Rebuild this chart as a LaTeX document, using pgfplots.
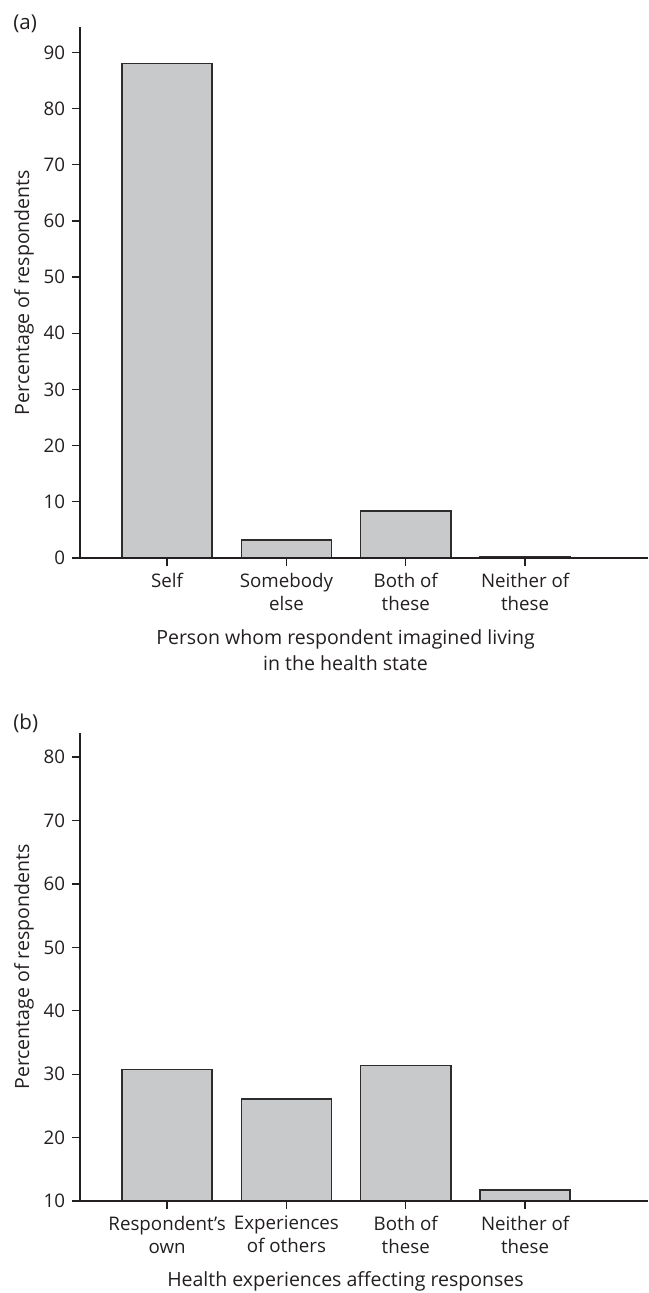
\documentclass[border=0pt]{standalone}
\usepackage{fontspec}
\setmainfont{Open Sans}
\usepackage{pgfplots}
\pgfplotsset{compat=1.18}

\definecolor{barfill}{RGB}{200,201,203}
\definecolor{bardraw}{RGB}{45,45,45}
\definecolor{ink}{RGB}{35,31,32}

\pgfplotsset{
  panel/.style={
    scale only axis,
    width=284bp,
    xmin=-0.73, xmax=4.03,
    axis x line*=bottom, axis y line*=left,
    axis line style={ink, line width=0.65bp},
    tick style={ink, line width=0.65bp},
    tick align=outside,
    major tick length=4bp,
    xtick={0,1,2,3},
    xtick pos=bottom, ytick pos=left,
    /pgf/number format/assume math mode=true,
    tick label style={font=\fontsize{9.4}{11.5}\selectfont, text=ink},
    xticklabel style={align=center},
    label style={font=\fontsize{9.8}{13.3}\selectfont, text=ink},
    ylabel style={at={(axis description cs:-0.0986,0.5)}, anchor=center},
    axis on top,
    ybar, bar width=0.755,
  },
  barstyle/.style={fill=barfill, draw=bardraw, line width=0.75bp},
}

\begin{document}
\begin{tikzpicture}
\useasboundingbox (0,0) rectangle (324.5bp,-646.5bp);

% (a)
\begin{axis}[panel,
    at={(40bp,-279bp)}, anchor=south west,
    height=265.5bp,
    ymin=0, ymax=94.5,
    ytick={0,10,...,90},
    xticklabels={Self,{Somebody\\else},{Both of\\these},{Neither of\\these}},
    ylabel={Percentage of respondents},
    xlabel={Person whom respondent imagined living\\in the health state},
    xlabel style={at={(axis description cs:0.4674,-0.1733)}, anchor=center, align=center},
  ]
  \addplot[barstyle] coordinates {(0,88) (1,3.2) (2,8.4) (3,0.3)};
\end{axis}
\node[anchor=west, inner sep=0, text=ink, font=\fontsize{10.3}{12}\selectfont] at (6.5bp,-12bp) {(a)};

% (b)
\begin{axis}[panel,
    at={(40bp,-600.5bp)}, anchor=south west,
    height=234bp,
    ymin=10, ymax=83.8,
    ytick={10,20,...,80},
    xticklabels={{Respondent’s\\own},{Experiences\\of others},{Both of\\these},{Neither of\\these}},
    ylabel={Percentage of respondents},
    xlabel={Health experiences affecting responses},
    xlabel style={at={(axis description cs:0.4674,-0.1722)}, anchor=center},
  ]
  \addplot[barstyle] coordinates {(0,30.7) (1,26.1) (2,31.4) (3,11.7)};
\end{axis}
\node[anchor=west, inner sep=0, text=ink, font=\fontsize{10.3}{12}\selectfont] at (6.5bp,-361.75bp) {(b)};
\end{tikzpicture}
\end{document}
